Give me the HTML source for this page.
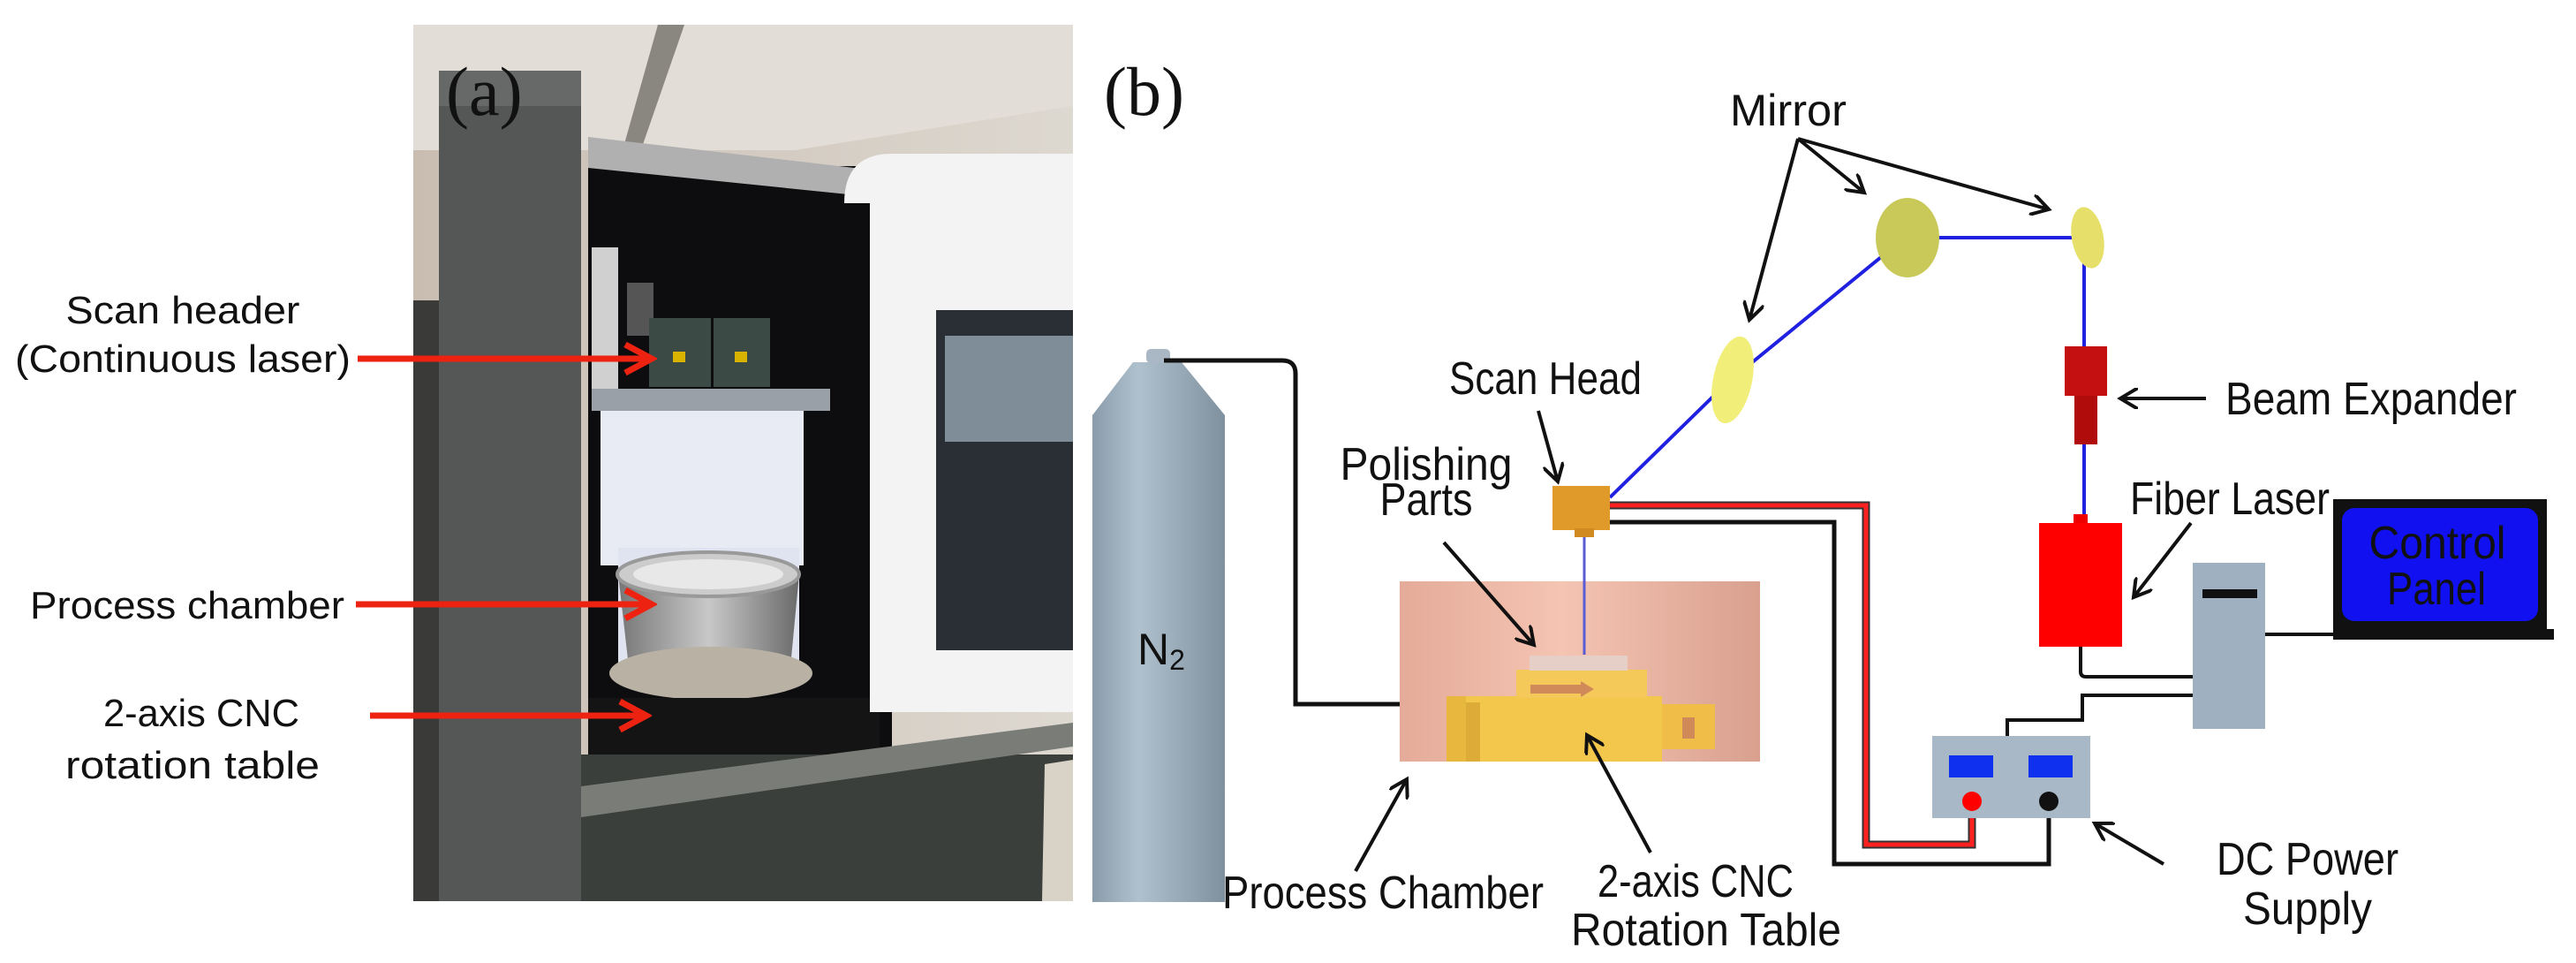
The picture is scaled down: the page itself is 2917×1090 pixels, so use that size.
<!DOCTYPE html>
<html><head><meta charset="utf-8"><style>
html,body{margin:0;padding:0;background:#fff;}
svg{display:block;}
text{font-family:"Liberation Sans Narrow","Liberation Sans",sans-serif;fill:#111;}
</style></head><body>
<svg width="2917" height="1090" viewBox="0 0 2917 1090" xmlns="http://www.w3.org/2000/svg">
<defs>
<linearGradient id="cyl" x1="0" x2="1"><stop offset="0" stop-color="#8a9cab"/><stop offset="0.35" stop-color="#b0c1ce"/><stop offset="1" stop-color="#7f909e"/></linearGradient>
<linearGradient id="pink" x1="0" x2="1"><stop offset="0" stop-color="#e4ab98"/><stop offset="0.45" stop-color="#f5c4b3"/><stop offset="1" stop-color="#d9a08e"/></linearGradient>
<linearGradient id="pot" x1="0" x2="1"><stop offset="0" stop-color="#777"/><stop offset="0.5" stop-color="#c8c8c8"/><stop offset="1" stop-color="#6a6a6a"/></linearGradient>
<linearGradient id="wall" x1="0" x2="1" y1="0" y2="0"><stop offset="0" stop-color="#c9bdb2"/><stop offset="1" stop-color="#ddd8d0"/></linearGradient>
<marker id="ar2" markerWidth="24" markerHeight="24" refX="20" refY="12" orient="auto" markerUnits="userSpaceOnUse"><path d="M0,0 L20,12 L0,24" fill="none" stroke="#111" stroke-width="4"/></marker>
<marker id="ra" markerWidth="40" markerHeight="40" refX="34" refY="20" orient="auto" markerUnits="userSpaceOnUse"><path d="M4,4 L34,20 L4,36" fill="none" stroke="#e21" stroke-width="7"/></marker>
</defs>

<!-- Photo (a) -->
<rect x="468" y="28" width="747" height="992" fill="url(#wall)"/>
<polygon points="468,28 1215,28 1215,120 900,170 468,170" fill="#e2ddd6"/>
<polygon points="705,170 745,28 775,28 725,172" fill="#8a8680"/>
<rect x="468" y="340" width="30" height="680" fill="#3a3a38"/>
<rect x="666" y="188" width="344" height="666" fill="#0d0d10"/>
<polygon points="666,155 1010,195 1010,225 666,190" fill="#b0b0b0"/>
<rect x="670" y="280" width="30" height="160" fill="#d0d0d0"/>
<rect x="680" y="460" width="230" height="180" fill="#e8eaf4"/>
<rect x="710" y="320" width="30" height="60" fill="#555"/>
<rect x="735" y="360" width="70" height="78" fill="#3b4a45"/>
<rect x="808" y="360" width="64" height="78" fill="#3b4a45"/>
<rect x="762" y="398" width="14" height="12" fill="#d8b400"/>
<rect x="832" y="398" width="14" height="12" fill="#d8b400"/>
<rect x="670" y="440" width="270" height="25" fill="#9aa0a8"/>
<rect x="700" y="620" width="205" height="150" fill="#e0e4f0"/>
<path d="M700,650 L905,650 L895,755 L712,755 Z" fill="url(#pot)"/>
<ellipse cx="802" cy="650" rx="103" ry="25" fill="#ccc" stroke="#999" stroke-width="4"/>
<ellipse cx="802" cy="650" rx="85" ry="17" fill="#e8e8e8"/>
<ellipse cx="805" cy="762" rx="115" ry="30" fill="#b9b2a4"/>
<rect x="666" y="790" width="330" height="64" fill="#141414"/>
<path d="M956,230 Q956,174 1010,174 L1215,174 L1215,806 L985,806 L985,230 Z" fill="#f3f3f3"/>
<rect x="1060" y="351" width="155" height="385" fill="#2a2f35"/>
<rect x="1070" y="380" width="145" height="120" fill="#7f8d98"/>
<rect x="497" y="80" width="161" height="940" fill="#545756"/>
<rect x="497" y="80" width="161" height="40" fill="#666968"/>
<rect x="658" y="854" width="557" height="166" fill="#3b3f3c"/>
<polygon points="658,890 1215,818 1215,845 658,925" fill="#7a7c78"/>
<polygon points="1183,865 1215,860 1215,1020 1180,1020" fill="#d8d3c6"/>
<text x="505" y="130" style="font-family:'Liberation Serif',serif" font-size="78">(a)</text>

<!-- labels (a) -->
<text x="207" y="366" font-size="44" text-anchor="middle" textLength="265" lengthAdjust="spacingAndGlyphs">Scan header</text>
<text x="207" y="421" font-size="44" text-anchor="middle" textLength="380" lengthAdjust="spacingAndGlyphs">(Continuous laser)</text>
<line x1="405" y1="406" x2="738" y2="406" stroke="#e21" stroke-width="7" marker-end="url(#ra)"/>
<text x="212" y="700" font-size="44" text-anchor="middle" textLength="356" lengthAdjust="spacingAndGlyphs">Process chamber</text>
<line x1="403" y1="684" x2="738" y2="684" stroke="#e21" stroke-width="7" marker-end="url(#ra)"/>
<text x="228" y="822" font-size="44" text-anchor="middle" textLength="222" lengthAdjust="spacingAndGlyphs">2-axis CNC</text>
<text x="218" y="881" font-size="44" text-anchor="middle" textLength="288" lengthAdjust="spacingAndGlyphs">rotation table</text>
<line x1="419" y1="810" x2="732" y2="810" stroke="#e21" stroke-width="7" marker-end="url(#ra)"/>

<!-- Panel (b) -->
<text x="1250" y="130" style="font-family:'Liberation Serif',serif" font-size="78">(b)</text>

<!-- N2 cylinder -->
<path d="M1237,1021 L1237,470 L1283,410 L1338,410 L1387,470 L1387,1021 Z" fill="url(#cyl)"/>
<rect x="1298" y="395" width="27" height="16" rx="5" fill="#a9b8c4"/>
<text x="1315" y="752" font-size="50" text-anchor="middle">N<tspan font-size="32" dy="6">2</tspan></text>
<path d="M1318,408 L1452,408 Q1467,408 1467,423 L1467,797 L1587,797" fill="none" stroke="#111" stroke-width="5"/>

<!-- Process chamber -->
<rect x="1585" y="658" width="408" height="204" fill="url(#pink)"/>
<!-- table -->
<rect x="1638" y="788" width="244" height="74" fill="#f3c64c"/>
<rect x="1638" y="788" width="22" height="74" fill="#e8b73e"/>
<rect x="1660" y="795" width="16" height="67" fill="#dcab38"/>
<rect x="1882" y="797" width="60" height="51" fill="#efbd48"/>
<rect x="1905" y="812" width="14" height="24" fill="#d08a5a"/>
<rect x="1717" y="758" width="148" height="32" fill="#f5c85a"/>
<rect x="1732" y="742" width="111" height="17" fill="#e6cfc6"/>
<polygon points="1733,775 1790,775 1790,771 1805,780 1790,789 1790,785 1733,785" fill="#d08a5a"/>

<!-- beam path -->
<polyline points="1794,741 1794,598" fill="none" stroke="#5b5bd6" stroke-width="3"/>
<polyline points="1823,563 1955,434 2157,269 2360,269 2360,590" fill="none" stroke="#2020e0" stroke-width="4"/>
<!-- mirrors -->
<ellipse cx="1962" cy="430" rx="22" ry="50" fill="#f2ee7a" transform="rotate(12 1962 430)"/>
<ellipse cx="2160" cy="269" rx="36" ry="45" fill="#c9c95a"/>
<ellipse cx="2364" cy="269" rx="18" ry="35" fill="#e6e06a" transform="rotate(-10 2364 269)"/>

<!-- scan head -->
<rect x="1758" y="550" width="65" height="50" fill="#e09a2a"/>
<rect x="1783" y="598" width="22" height="10" fill="#d08a20"/>

<!-- wires -->
<polyline points="1823,572 2113,572 2113,956 2233,956 2233,907" fill="none" stroke="#333" stroke-width="9"/>
<polyline points="1823,572 2113,572 2113,956 2233,956 2233,907" fill="none" stroke="#ff2020" stroke-width="5"/>
<polyline points="1823,591 2077,591 2077,978 2320,978 2320,907" fill="none" stroke="#111" stroke-width="5"/>

<!-- beam expander -->
<rect x="2338" y="392" width="48" height="56" fill="#c41010"/>
<rect x="2349" y="448" width="26" height="55" fill="#b00c0c"/>
<!-- fiber laser -->
<rect x="2348" y="582" width="16" height="12" fill="#e00"/>
<rect x="2309" y="592" width="94" height="140" fill="#f00"/>
<path d="M2356,732 L2356,760 Q2356,766 2362,766 L2483,766" fill="none" stroke="#111" stroke-width="4"/>
<polyline points="2483,787 2358,787 2358,815 2273,815 2273,833" fill="none" stroke="#111" stroke-width="4"/>

<!-- tower -->
<rect x="2483" y="637" width="82" height="188" fill="#9fb0c0"/>
<rect x="2494" y="667" width="62" height="10" fill="#111"/>
<line x1="2565" y1="718" x2="2645" y2="718" stroke="#111" stroke-width="4"/>
<!-- laptop -->
<rect x="2642" y="565" width="242" height="155" fill="#111"/>
<rect x="2652" y="575" width="222" height="128" rx="14" fill="#1010f0"/>
<rect x="2642" y="712" width="250" height="12" fill="#111"/>
<text x="2760" y="632" font-size="52" text-anchor="middle" textLength="155" lengthAdjust="spacingAndGlyphs">Control</text>
<text x="2759" y="684" font-size="52" text-anchor="middle" textLength="112" lengthAdjust="spacingAndGlyphs">Panel</text>

<!-- DC PSU -->
<rect x="2188" y="833" width="179" height="93" fill="#a9b8c6"/>
<rect x="2207" y="855" width="50" height="25" fill="#1030f0"/>
<rect x="2297" y="855" width="50" height="25" fill="#1030f0"/>
<circle cx="2233" cy="907" r="11" fill="#f00"/>
<circle cx="2320" cy="907" r="11" fill="#111"/>

<!-- labels (b) -->
<text x="2025" y="142" font-size="50" text-anchor="middle" textLength="132" lengthAdjust="spacingAndGlyphs">Mirror</text>
<line x1="2036" y1="157" x2="1981" y2="362" stroke="#111" stroke-width="4" marker-end="url(#ar2)"/>
<line x1="2036" y1="157" x2="2111" y2="218" stroke="#111" stroke-width="4" marker-end="url(#ar2)"/>
<line x1="2036" y1="157" x2="2320" y2="237" stroke="#111" stroke-width="4" marker-end="url(#ar2)"/>

<text x="1750" y="446" font-size="52" text-anchor="middle" textLength="218" lengthAdjust="spacingAndGlyphs">Scan Head</text>
<line x1="1742" y1="465" x2="1764" y2="545" stroke="#111" stroke-width="4" marker-end="url(#ar2)"/>
<text x="1615" y="543" font-size="52" text-anchor="middle" textLength="195" lengthAdjust="spacingAndGlyphs">Polishing</text>
<text x="1615" y="583" font-size="52" text-anchor="middle" textLength="105" lengthAdjust="spacingAndGlyphs">Parts</text>
<line x1="1635" y1="614" x2="1737" y2="730" stroke="#111" stroke-width="4" marker-end="url(#ar2)"/>

<text x="2685" y="469" font-size="52" text-anchor="middle" textLength="330" lengthAdjust="spacingAndGlyphs">Beam Expander</text>
<line x1="2498" y1="451" x2="2401" y2="451" stroke="#111" stroke-width="4" marker-end="url(#ar2)"/>
<text x="2525" y="582" font-size="52" text-anchor="middle" textLength="226" lengthAdjust="spacingAndGlyphs">Fiber Laser</text>
<line x1="2481" y1="592" x2="2416" y2="676" stroke="#111" stroke-width="4" marker-end="url(#ar2)"/>

<text x="1566" y="1028" font-size="52" text-anchor="middle" textLength="364" lengthAdjust="spacingAndGlyphs">Process Chamber</text>
<line x1="1535" y1="986" x2="1593" y2="882" stroke="#111" stroke-width="4" marker-end="url(#ar2)"/>
<text x="1920" y="1015" font-size="52" text-anchor="middle" textLength="222" lengthAdjust="spacingAndGlyphs">2-axis CNC</text>
<text x="1932" y="1070" font-size="52" text-anchor="middle" textLength="306" lengthAdjust="spacingAndGlyphs">Rotation Table</text>
<line x1="1869" y1="965" x2="1797" y2="832" stroke="#111" stroke-width="4" marker-end="url(#ar2)"/>

<text x="2613" y="990" font-size="52" text-anchor="middle" textLength="206" lengthAdjust="spacingAndGlyphs">DC Power</text>
<text x="2613" y="1046" font-size="52" text-anchor="middle" textLength="146" lengthAdjust="spacingAndGlyphs">Supply</text>
<line x1="2450" y1="978" x2="2372" y2="932" stroke="#111" stroke-width="4" marker-end="url(#ar2)"/>
</svg>
</body></html>
